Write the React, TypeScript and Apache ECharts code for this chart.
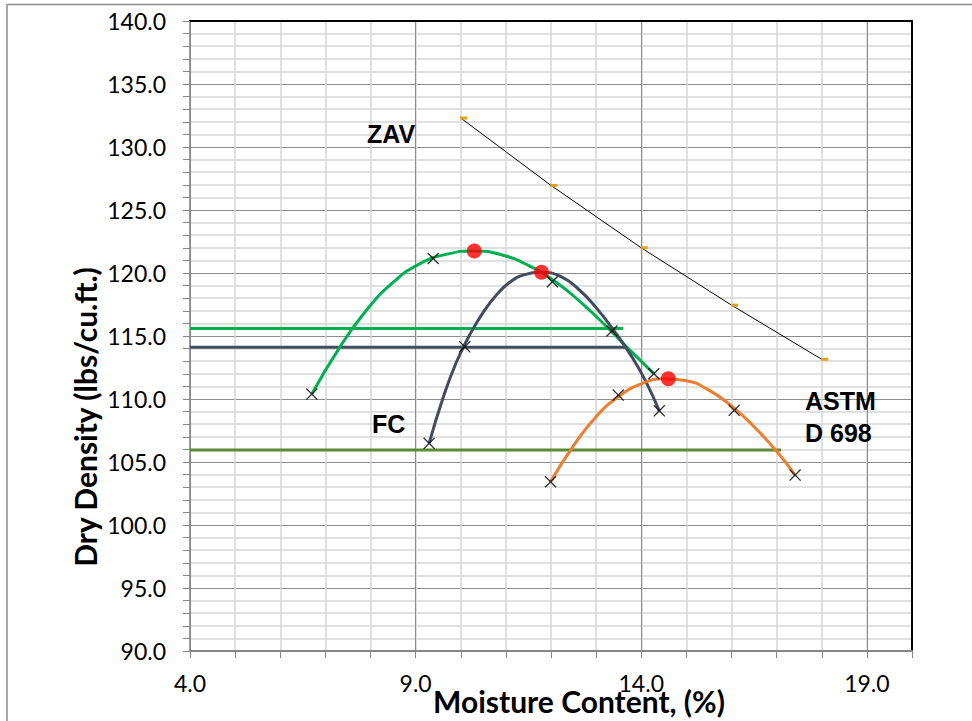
import React, { useEffect, useRef } from "react";
import * as echarts from "echarts";

// Axis ranges and tick labels
const X_MIN = 4;
const X_MAX = 20;
const Y_MIN = 90;
const Y_MAX = 140;
const xLabelValues = [4, 9, 14, 19];

// Zero-air-voids line (moisture %, dry density)
const zavPoints = [
  [10, 132.3],
  [12, 126.95],
  [14, 122.0],
  [16, 117.45],
  [18, 113.15],
];

// Trend curves
const greenCurve = [
  [6.7, 110.4], [7.3, 114.0], [7.9, 117.0], [8.5, 119.25], [9.1, 120.75],
  [9.7, 121.5], [10.3, 121.75], [10.9, 121.45], [11.5, 120.6], [12.1, 119.3],
  [12.7, 117.55], [13.3, 115.5], [13.8, 113.7], [14.28, 112.0],
];
const darkCurve = [
  [9.3, 106.5], [9.6, 110.0], [9.9, 112.9], [10.2, 115.1], [10.5, 116.9],
  [10.8, 118.3], [11.1, 119.3], [11.4, 119.85], [11.8, 120.05], [12.2, 119.75],
  [12.6, 118.75], [13.0, 117.25], [13.4, 115.4], [13.8, 113.3], [14.1, 111.4],
  [14.4, 109.06],
];
const orangeCurve = [
  [11.99, 103.43], [12.5, 106.3], [13.0, 108.6], [13.5, 110.2], [14.0, 111.2],
  [14.5, 111.6], [15.0, 111.45], [15.5, 110.7], [16.0, 109.45], [16.5, 107.8],
  [17.0, 105.85], [17.41, 103.96],
];

// Test points (x markers)
const testPoints = [
  [6.7, 110.39], [9.39, 121.15], [13.35, 115.4], [14.28, 112.0],
  [9.3, 106.48], [10.09, 114.14], [12.03, 119.3], [14.4, 109.06],
  [11.99, 103.43], [13.49, 110.31], [16.06, 109.1], [17.41, 103.96],
];

// Maximum dry density points
const maxPoints = [
  [10.3, 121.75],
  [11.79, 120.05],
  [14.6, 111.6],
];

// 95% levels
const greenLevel = [[4, 115.6], [13.6, 115.6]];
const darkLevel = [[4, 114.1], [13.68, 114.1]];
const oliveLevel = [[4, 105.95], [17.1, 105.95]];

const GREEN = "#00B050";
const DARK = "#414C5F";
const ORANGE = "#ED7D31";
const OLIVE = "#5A8A3A";

const X_SYMBOL =
  "path://M0,0.8L0.8,0L5,4.2L9.2,0L10,0.8L5.8,5L10,9.2L9.2,10L5,5.8L0.8,10L0,9.2L4.2,5Z";

export default function App() {
  const ref = useRef<HTMLDivElement>(null);

  useEffect(() => {
    if (!ref.current) return;
    const chart = echarts.init(ref.current, null, { renderer: "svg" });
    const labelFont = { fontFamily: "Lato", fontSize: 23, color: "#000" };
    const annot = (text: string, x: number, y: number) => ({
      type: "text",
      x,
      y,
      z: 100,
      style: {
        text,
        fill: "#000",
        font: 'bold 25px "Liberation Sans", Arial, sans-serif',
        align: "left",
        verticalAlign: "middle",
      },
    });
    const curve = (name: string, data: number[][], color: string) => ({
      name,
      type: "line",
      data,
      smooth: 0.5,
      symbol: "none",
      lineStyle: { color, width: 3 },
      z: 3,
    });
    const level = (name: string, data: number[][], color: string) => ({
      name,
      type: "line",
      data,
      symbol: "none",
      lineStyle: { color, width: 3 },
      z: 2,
    });
    chart.setOption({
      animation: false,
      backgroundColor: "#fff",
      textStyle: { fontFamily: "Lato" },
      grid: { left: 190, right: 60, top: 21, bottom: 70, containLabel: false },
      xAxis: [
        {
          type: "value",
          min: X_MIN,
          max: X_MAX,
          interval: 1,
          position: "bottom",
          axisLine: { onZero: false, lineStyle: { color: "#868686", width: 2 } },
          axisTick: { show: true, inside: false, length: 7, lineStyle: { color: "#868686" } },
          axisLabel: {
            ...labelFont,
            margin: 20,
            formatter: (v: number) => (xLabelValues.includes(v) ? v.toFixed(1) : ""),
          },
          splitLine: { show: true, lineStyle: { color: "#d6d6d6", width: 1.5 } },
        },
        {
          type: "value",
          min: X_MIN,
          max: X_MAX,
          interval: 5,
          position: "top",
          axisLine: { onZero: false, lineStyle: { color: "#000", width: 2 } },
          axisTick: { show: false },
          axisLabel: { show: false },
          splitLine: { show: true, lineStyle: { color: "#8c8c8c", width: 1 } },
        },
      ],
      yAxis: [
        {
          type: "value",
          min: Y_MIN,
          max: Y_MAX,
          interval: 5,
          position: "left",
          axisLine: { onZero: false, lineStyle: { color: "#868686", width: 1.5 } },
          axisTick: { show: true, inside: false, length: 7, lineStyle: { color: "#868686" } },
          minorTick: { show: true, splitNumber: 5, length: 7, lineStyle: { color: "#868686" } },
          axisLabel: { ...labelFont, margin: 24, formatter: (v: number) => v.toFixed(1) },
          splitLine: { show: true, lineStyle: { color: "#8c8c8c", width: 1 } },
          minorSplitLine: { show: true, lineStyle: { color: "#d6d6d6", width: 1.5 } },
        },
        {
          type: "value",
          min: Y_MIN,
          max: Y_MAX,
          interval: 5,
          position: "right",
          axisLine: { onZero: false, lineStyle: { color: "#000", width: 2 } },
          axisTick: { show: false },
          axisLabel: { show: false },
          splitLine: { show: false },
        },
      ],
      series: [
        {
          name: "ZAV",
          type: "line",
          data: zavPoints,
          lineStyle: { color: "#000", width: 1 },
          symbol: "rect",
          symbolSize: [7, 3],
          symbolOffset: [3, 0],
          itemStyle: { color: "#E5A11C" },
          z: 3,
        },
        level("Level green", greenLevel, GREEN),
        level("Level dark", darkLevel, DARK),
        level("Level olive", oliveLevel, OLIVE),
        curve("Green curve", greenCurve, GREEN),
        curve("Dark curve", darkCurve, DARK),
        curve("Orange curve", orangeCurve, ORANGE),
        {
          name: "Tests",
          type: "scatter",
          data: testPoints,
          symbol: X_SYMBOL,
          symbolSize: 12,
          itemStyle: { color: "#000" },
          z: 4,
        },
        {
          name: "Max",
          type: "scatter",
          data: maxPoints,
          symbol: "circle",
          symbolSize: 15,
          itemStyle: { color: "#FF0000" },
          z: 5,
        },
      ],
      graphic: [
        {
          type: "line",
          shape: { x1: 7, y1: 4.5, x2: 972, y2: 4.5 },
          style: { stroke: "#8c8c8c", lineWidth: 1.5 },
        },
        {
          type: "line",
          shape: { x1: 7, y1: 4, x2: 7, y2: 721 },
          style: { stroke: "#8c8c8c", lineWidth: 1.5 },
        },
        annot("ZAV", 367, 134),
        annot("FC", 372, 424),
        annot("ASTM", 805, 401),
        annot("D 698", 805, 433),
        {
          type: "text",
          x: 579,
          y: 701,
          z: 100,
          style: {
            text: "Moisture Content, (%)",
            fill: "#000",
            font: "bold 30px Lato",
            align: "center",
            verticalAlign: "middle",
          },
        },
        {
          type: "text",
          x: 85,
          y: 417,
          rotation: Math.PI / 2,
          z: 100,
          style: {
            text: "Dry Density (lbs/cu.ft.)",
            fill: "#000",
            font: "bold 30px Lato",
            align: "center",
            verticalAlign: "middle",
          },
        },
      ],
    });
    return () => chart.dispose();
  }, []);

  return (
    <div
      ref={ref}
      style={{ position: "absolute", left: 0, top: 0, width: 972, height: 721 }}
    />
  );
}
